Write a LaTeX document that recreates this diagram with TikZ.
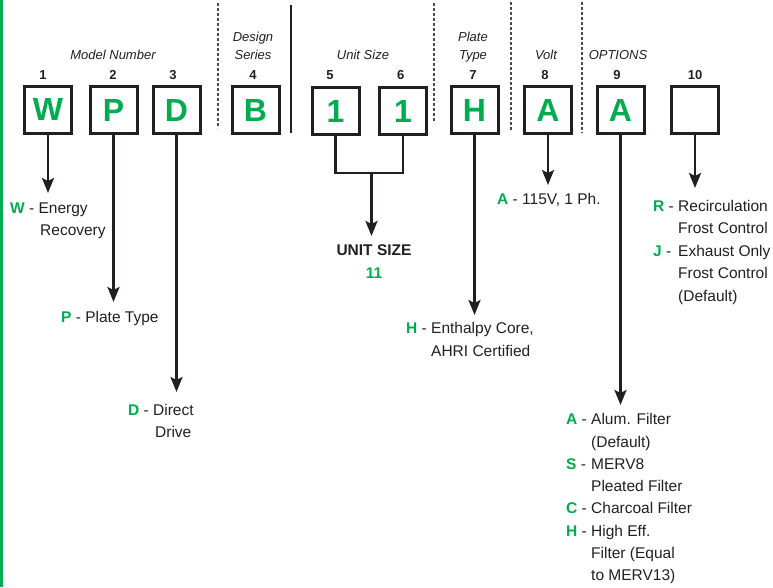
\documentclass[tikz,border=0pt]{standalone}
\usepackage{fontspec}
\setmainfont{Liberation Sans}
\usetikzlibrary{arrows.meta}
\definecolor{kgreen}{RGB}{0,172,80}
\definecolor{kink}{RGB}{35,31,32}
\newcommand{\gl}[1]{\textcolor{kgreen}{\textbf{#1}}}
\begin{document}
\begin{tikzpicture}[x=1pt,y=-1pt,
  codebox/.style={draw=kink,line width=3pt,minimum width=47pt,minimum height=47pt,inner sep=0pt,
    font=\fontsize{32}{32}\selectfont\bfseries,text=kgreen},
  hdr/.style={font=\fontsize{13}{15}\selectfont\itshape,text=kink,anchor=base,inner sep=0pt},
  num/.style={font=\fontsize{13}{15}\selectfont\bfseries,text=kink,anchor=base,inner sep=0pt},
  txt/.style={font=\fontsize{15.5}{18}\selectfont,text=kink,anchor=base west,inner sep=0pt},
  ctxt/.style={font=\fontsize{15.5}{18}\selectfont\bfseries,text=kink,anchor=base,inner sep=0pt},
  arr/.style={draw=kink,line width=2.5pt,-{Stealth[length=15pt,width=12pt,inset=3pt]}},
  conn/.style={draw=kink,line width=2.5pt},
  divd/.style={draw=kink!80,line width=1.2pt,dash pattern=on 3pt off 2pt},
  divs/.style={draw=kink,line width=1.6pt}]
\useasboundingbox (0,0) rectangle (773,587);
\fill[kgreen] (0,0) rectangle (2.5,587);

% dividers
\draw[divd] (218,3) -- (218,128);
\draw[divs] (291,5) -- (291,133);
\draw[divd] (434,3) -- (434,122);
\draw[divd] (511,2) -- (511,130);
\draw[divd] (582,2) -- (582,133);

% headers
\node[hdr] (hModel) at (113,59.7) {Model Number};
\node[hdr] (hDes1) at (253,41.7) {Design};
\node[hdr] (hDes2) at (253,59.7) {Series};
\node[hdr] (hUnit) at (363,59.7) {Unit Size};
\node[hdr] (hPl1) at (473,41.7) {Plate};
\node[hdr] (hPl2) at (473,59.7) {Type};
\node[hdr] (hVolt) at (546,59.7) {Volt};
\node[hdr] (hOpt) at (618,59.7) {OPTIONS};

% numbers
\node[num] (n1) at (43,79.7) {1};
\node[num] (n2) at (113,79.7) {2};
\node[num] (n3) at (173,79.7) {3};
\node[num] (n4) at (253,79.7) {4};
\node[num] (n5) at (330,79.7) {5};
\node[num] (n6) at (400.7,79.7) {6};
\node[num] (n7) at (473,79.7) {7};
\node[num] (n8) at (545,79.7) {8};
\node[num] (n9) at (617,79.7) {9};
\node[num] (n10) at (695,79.7) {10};

% boxes
\node[codebox] (bW) at (48,109.5) {W};
\node[codebox] (bP) at (113.5,110) {P};
\node[codebox] (bD) at (176.5,110) {D};
\node[codebox] (bB) at (255.5,110) {B};
\node[codebox] (b5) at (335.5,111) {1};
\node[codebox] (b6) at (403,111) {1};
\node[codebox] (bH) at (474.5,110) {H};
\node[codebox] (bA) at (548,110) {A};
\node[codebox] (bO) at (620.5,110) {A};
\node[codebox] (bX) at (695,110) {};

% arrow tips
\coordinate (tW) at (48,193);
\coordinate (tP) at (113.5,302);
\coordinate (tD) at (176.5,392);
\coordinate (jU) at (371.5,173);
\coordinate (tU) at (371.5,236);
\coordinate (tH) at (474.5,315);
\coordinate (tA) at (548,185);
\coordinate (tO) at (620.5,405);
\coordinate (tX) at (695,188);

\draw[arr] (bW.south) -- (tW);
\draw[arr] (bP.south) -- (tP);
\draw[arr] (bD.south) -- (tD);
\draw[conn] (b5.south) -- (b5.south |- jU) -- (b6.south |- jU) -- (b6.south);
\draw[arr] (jU) -- (tU);
\draw[arr] (bH.south) -- (tH);
\draw[arr] (bA.south) -- (tA);
\draw[arr] (bO.south) -- (tO);
\draw[arr] (bX.south) -- (tX);

% W
\node[txt] (lW1) at (10,213.5) {\gl{W} - Energy};
\node[txt] (lW2) at (40,235.5) {Recovery};
% P
\node[txt] (lP1) at (61,322.5) {\gl{P} - Plate Type};
% D
\node[txt] (lD1) at (128,415.5) {\gl{D} - Direct};
\node[txt] (lD2) at (155,437.5) {Drive};
% Unit size
\node[ctxt] (lU1) at (374,255.5) {UNIT SIZE};
\node[ctxt,text=kgreen] (lU2) at (374,278.5) {11};
% H
\node[txt] (lHk) at (406,333.5) {\gl{H} -};
\node[txt] (lH1) at (431,333.5) {Enthalpy Core,};
\node[txt] (lH2) at (431,356.5) {AHRI Certified};
% Volt
\node[txt] (lA1) at (497,204.5) {\gl{A} - 115V, 1 Ph.};
% Option 10
\node[txt] (lRk) at (653,211.5) {\gl{R} -};
\node[txt] (lR1) at (678,211.5) {Recirculation};
\node[txt] (lR2) at (678,233.5) {Frost Control};
\node[txt] (lJk) at (653,256.5) {\gl{J} -};
\node[txt] (lJ1) at (678,256.5) {Exhaust Only};
\node[txt] (lJ2) at (678,278.5) {Frost Control};
\node[txt] (lJ3) at (678,301.5) {(Default)};
% Options 9
\node[txt] (lOAk) at (566,424.5) {\gl{A} -};
\node[txt] (lOA1) at (591,424.5) {Alum. Filter};
\node[txt] (lOA2) at (591,447.5) {(Default)};
\node[txt] (lOSk) at (566,469.5) {\gl{S} -};
\node[txt] (lOS1) at (591,469.5) {MERV8};
\node[txt] (lOS2) at (591,491.5) {Pleated Filter};
\node[txt] (lOCk) at (566,513.5) {\gl{C} -};
\node[txt] (lOC1) at (591,513.5) {Charcoal Filter};
\node[txt] (lOHk) at (566,536.5) {\gl{H} -};
\node[txt] (lOH1) at (591,536.5) {High Eff.};
\node[txt] (lOH2) at (591,558.5) {Filter (Equal};
\node[txt] (lOH3) at (591,580.5) {to MERV13)};
\end{tikzpicture}
\end{document}
